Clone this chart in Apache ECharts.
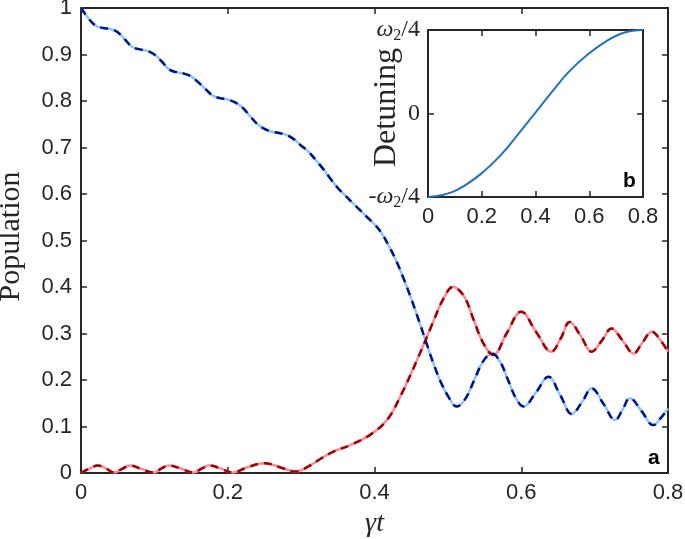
<!DOCTYPE html>
<html><head><meta charset="utf-8">
<script src="https://cdn.jsdelivr.net/npm/echarts@6/dist/echarts.min.js"></script>
<style>html,body{margin:0;padding:0;background:#fff}#c{width:685px;height:539px}</style>
</head><body><div id="c"></div>
<script>
// Main panel (a): population vs gamma*t
var blueT = [0,0.01,0.02,0.03,0.04,0.05,0.06,0.07,0.08,0.09,0.10,0.11,0.12,0.13,0.14,0.15,0.16,0.17,0.18,0.19,0.20,0.21,0.22,0.23,0.24,0.25,0.26,0.27,0.28,0.29,0.30,0.31,0.32,0.33,0.34,0.35,0.36,0.37,0.38,0.39,0.40,0.41,0.42,0.43,0.44,0.45,0.46,0.47,0.48,0.49,0.50,0.512,0.524,0.536,0.548,0.560,0.571,0.582,0.593,0.603,0.620,0.637,0.653,0.669,0.683,0.696,0.712,0.728,0.738,0.748,0.764,0.780,0.790,0.800];
var blueP = [1.000,0.978,0.962,0.957,0.955,0.948,0.932,0.916,0.911,0.908,0.900,0.885,0.868,0.862,0.859,0.853,0.840,0.825,0.811,0.806,0.803,0.797,0.786,0.768,0.751,0.740,0.734,0.731,0.727,0.718,0.704,0.691,0.673,0.654,0.633,0.613,0.597,0.581,0.566,0.550,0.535,0.515,0.487,0.455,0.417,0.375,0.330,0.283,0.237,0.197,0.166,0.143,0.160,0.200,0.240,0.257,0.240,0.200,0.160,0.143,0.173,0.207,0.168,0.127,0.153,0.182,0.149,0.114,0.136,0.161,0.133,0.103,0.118,0.139];
var redT = [0,0.012,0.023,0.034,0.045,0.056,0.067,0.082,0.099,0.110,0.120,0.137,0.153,0.165,0.175,0.190,0.206,0.228,0.250,0.272,0.292,0.310,0.326,0.344,0.367,0.394,0.417,0.435,0.458,0.480,0.494,0.507,0.522,0.535,0.548,0.562,0.580,0.600,0.620,0.641,0.654,0.666,0.681,0.696,0.710,0.723,0.738,0.753,0.765,0.778,0.790,0.800];
var redP = [0,0.010,0.016,0.010,0.001,0.009,0.016,0.009,0.001,0.010,0.016,0.009,0.001,0.010,0.016,0.010,0.001,0.013,0.021,0.012,0.003,0.014,0.030,0.046,0.060,0.082,0.114,0.164,0.243,0.325,0.375,0.400,0.380,0.330,0.280,0.254,0.300,0.347,0.304,0.261,0.290,0.325,0.295,0.261,0.285,0.311,0.285,0.257,0.280,0.304,0.285,0.261];
// Inset panel (b): detuning vs gamma*t (units of omega2/4)
var detT = [0,0.05,0.112,0.198,0.273,0.335,0.397,0.459,0.521,0.595,0.670,0.732,0.80];
var detV = [-1,-0.98,-0.91,-0.72,-0.49,-0.25,0,0.25,0.49,0.71,0.88,0.97,1.0];
var insetYLabels = {'-1':'{h|-}{i|ω}{s|2}{n|/4}','0':'{n|0}','1':'{i|ω}{s|2}{n|/4}'};

function pairs(t,v){return t.map(function(x,i){return [x,v[i]];});}

var AX = '#262626';
function axisBase(o){
  var base = {
    type:'value', splitLine:{show:false},
    axisLine:{show:true,onZero:false,lineStyle:{color:AX,width:2}},
    axisTick:{show:true,inside:true,length:6,lineStyle:{color:AX,width:1.5}},
    axisLabel:{show:false}
  };
  for (var k in o) base[k]=o[k];
  return base;
}
var labelStyle = {show:true,color:AX,fontSize:22,fontFamily:'Liberation Sans, Arial, sans-serif'};
function lbl(extra){var o={};for(var k in labelStyle)o[k]=labelStyle[k];for(var k2 in extra)o[k2]=extra[k2];return o;}

var chart = echarts.init(document.getElementById('c'), null, {renderer:'canvas'});
var option = {
  animation:false,
  backgroundColor:'#fff',
  grid:[
    {left:81,top:8,width:587,height:465,outerBoundsMode:'none',containLabel:false},
    {left:428,top:30,width:215,height:167,outerBoundsMode:'none',containLabel:false,show:true,backgroundColor:'#fff',borderWidth:0,z:5}
  ],
  xAxis:[
    axisBase({gridIndex:0,position:'bottom',min:0,max:0.8,interval:0.2,
      axisLabel:lbl({margin:9}),
      name:'γt',nameLocation:'middle',nameGap:37,nameMoveOverlap:false,
      nameTextStyle:{fontFamily:'Liberation Serif, serif',fontStyle:'italic',fontSize:28,color:AX}}),
    axisBase({gridIndex:0,position:'top',min:0,max:0.8,interval:0.2}),
    axisBase({gridIndex:1,position:'bottom',min:0,max:0.8,interval:0.2,z:6,
      axisLabel:lbl({margin:9})}),
    axisBase({gridIndex:1,position:'top',min:0,max:0.8,interval:0.2,z:6})
  ],
  yAxis:[
    axisBase({gridIndex:0,position:'left',min:0,max:1,interval:0.1,
      axisLabel:lbl({margin:9}),
      name:'Population',nameLocation:'middle',nameGap:55,nameMoveOverlap:false,
      nameTextStyle:{fontFamily:'Liberation Serif, serif',fontSize:30,color:AX,padding:[0,0,0,8]}}),
    axisBase({gridIndex:0,position:'right',min:0,max:1,interval:0.1}),
    axisBase({gridIndex:1,position:'left',min:-1,max:1,interval:1,z:6,
      axisLabel:{show:true,margin:8,color:AX,
        formatter:function(v){return insetYLabels[String(Math.round(v))];},
        rich:{
          i:{fontFamily:'Liberation Serif, serif',fontStyle:'italic',fontSize:24,color:AX},
          h:{fontFamily:'Liberation Serif, serif',fontSize:24,color:AX},
          n:{fontFamily:'Liberation Serif, serif',fontSize:24,color:AX},
          s:{fontFamily:'Liberation Serif, serif',fontSize:16,color:AX,verticalAlign:'bottom',padding:[0,0,-2,0]}
        }},
      name:'Detuning',nameLocation:'middle',nameGap:25,nameMoveOverlap:false,
      nameTextStyle:{fontFamily:'Liberation Serif, serif',fontSize:32,color:AX,padding:[0,0,0,12]}}),
    axisBase({gridIndex:1,position:'right',min:-1,max:1,interval:1,z:6})
  ],
  series:[
    {type:'line',xAxisIndex:0,yAxisIndex:0,data:pairs(redT,redP),smooth:0.4,showSymbol:false,symbol:'none',
      lineStyle:{color:'#ff8a95',width:2.5},z:2},
    {type:'line',xAxisIndex:0,yAxisIndex:0,data:pairs(redT,redP),smooth:0.4,showSymbol:false,symbol:'none',
      lineStyle:{color:'#a00000',width:2.5,type:[8,6]},z:3},
    {type:'line',xAxisIndex:0,yAxisIndex:0,data:pairs(blueT,blueP),smooth:0.4,showSymbol:false,symbol:'none',
      lineStyle:{color:'#8ec6f7',width:2.5},z:2},
    {type:'line',xAxisIndex:0,yAxisIndex:0,data:pairs(blueT,blueP),smooth:0.4,showSymbol:false,symbol:'none',
      lineStyle:{color:'#00128f',width:2.5,type:[8,6]},z:3},
    {type:'line',xAxisIndex:2,yAxisIndex:2,data:pairs(detT,detV),smooth:0.4,showSymbol:false,symbol:'none',
      lineStyle:{color:'#1f72c0',width:2},z:7}
  ],
  graphic:[
    {type:'text',left:648,top:448,z:10,style:{text:'a',font:'bold 21px Liberation Sans, Arial, sans-serif',fill:'#000'}},
    {type:'text',left:623,top:171,z:10,style:{text:'b',font:'bold 21px Liberation Sans, Arial, sans-serif',fill:'#000'}}
  ]
};
chart.setOption(option);
</script></body></html>
